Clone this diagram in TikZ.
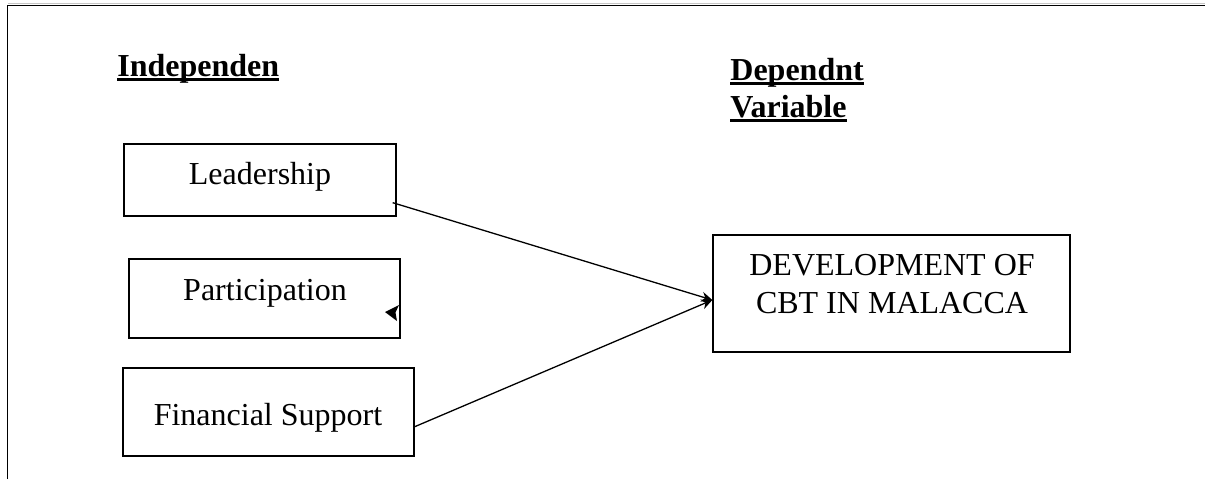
\documentclass[tikz,border=0pt]{standalone}
\usepackage{fontspec}
\setmainfont{Liberation Serif}
\usetikzlibrary{arrows.meta,calc}
\newcommand\myul[1]{\setbox0\hbox{#1}\rlap{\rule[-2.4pt]{\wd0}{1.5pt}}\box0}
\begin{document}
\begin{tikzpicture}[x=0.5pt,y=-0.5pt,
  hdr/.style={font=\bfseries\fontsize{16}{18}\selectfont, inner sep=0, anchor=base west},
  lbl/.style={font=\fontsize{16}{18}\selectfont, inner sep=0, anchor=base},
  box/.style={draw, line width=0.65pt, inner sep=0},
  conn/.style={line width=0.65pt, -{Stealth[length=5.5pt,width=5pt]}}]
\useasboundingbox (0,0) rectangle (1205,479);
% frame
\draw[gray!45, line width=0.5pt] (8,3.5) -- (1205,3.5);
\draw[line width=0.8pt] (7.5,479) -- (7.5,5.5) -- (1205,5.5);
% headers
\node[hdr] (ind) at (117,76) {\myul{Independen}};
\node[hdr] (dep) at (730,80) {\myul{Dependnt}};
\node[hdr] (var) at (730,117) {\myul{Variable}};
% boxes
\node[box, minimum width=136pt, minimum height=36pt] (lead) at (260,180) {};
\node[lbl] (leadT) at (260,184) {Leadership};
\node[box, minimum width=135.5pt, minimum height=39.5pt] (part) at (264.5,298.5) {};
\node[lbl] (partT) at (265,300) {Participation};
\node[box, line width=1pt, minimum width=145.5pt, minimum height=44pt] (fin) at (268.5,412) {};
\node[lbl] (finT) at (268,425) {Financial Support};
\node[box, minimum width=178.5pt, minimum height=58.5pt] (dev) at (891.5,293.5) {};
\node[lbl] (devT1) at (892,275) {DEVELOPMENT OF};
\node[lbl] (devT2) at (892,313) {CBT IN MALACCA};
% connectors
\coordinate (ls) at ($(lead.south east)+(-4,-14)$);
\coordinate (fs) at ($(fin.east)+(-1,15)$);
\coordinate (din) at ($(dev.west)+(0,6.5)$);
\draw[conn] (ls) -- (din);
\draw[conn] (fs) -- (din);
% stray arrowhead in participation box
\fill (385,312) -- (399,305) -- (395.5,312.5) -- (397,321) -- cycle;
\end{tikzpicture}
\end{document}
